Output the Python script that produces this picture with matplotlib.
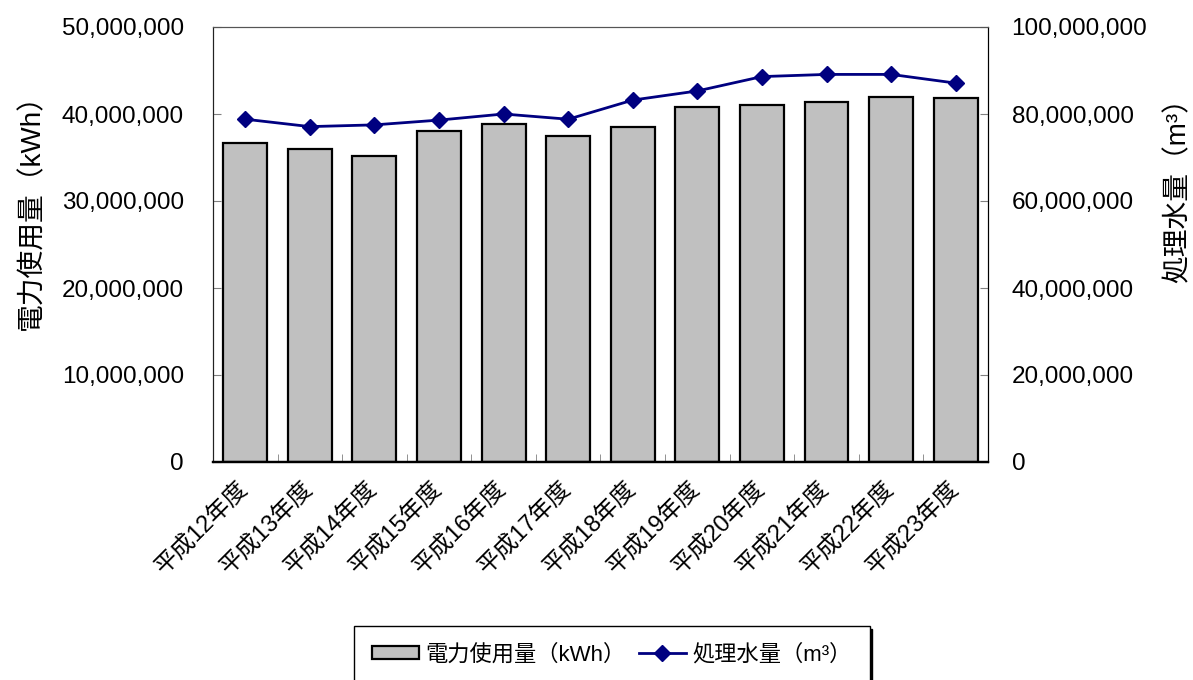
import numpy as np
import matplotlib
matplotlib.use("Agg")
import matplotlib.pyplot as plt
from matplotlib.ticker import FuncFormatter, MultipleLocator

plt.rcParams['font.family'] = ['Liberation Sans', 'Noto Sans CJK JP', 'DejaVu Sans']

years = ['平成12年度', '平成13年度', '平成14年度', '平成15年度', '平成16年度', '平成17年度',
         '平成18年度', '平成19年度', '平成20年度', '平成21年度', '平成22年度', '平成23年度']
# 電力使用量 (kWh)
power = [36700000, 36000000, 35200000, 38000000, 38900000, 37500000,
         38550000, 40800000, 41000000, 41400000, 41950000, 41800000]
# 処理水量 (m3)
water = [78800000, 77100000, 77500000, 78600000, 80000000, 78800000,
         83200000, 85300000, 88600000, 89100000, 89100000, 87100000]

x = np.arange(len(years))
comma = FuncFormatter(lambda v, p: f'{int(v):,}')

fig = plt.figure(figsize=(11.93, 6.8), dpi=100)
ax = fig.add_axes([213/1193, 1 - 462/680, (988-213)/1193, (462-27)/680])

bars = ax.bar(x, power, width=0.68, color='#c0c0c0', edgecolor='black', linewidth=1.6,
              zorder=2)
ax.set_xlim(-0.5, len(years) - 0.5)
ax.set_ylim(0, 50000000)
ax.yaxis.set_major_locator(MultipleLocator(10000000))
ax.yaxis.set_major_formatter(comma)
ax.set_ylabel('電力使用量（kWh）', fontsize=20)
ax.yaxis.set_label_coords(-0.216, 0.59)

ax.set_xticks(x)
ax.set_xticklabels(years, rotation=45, ha='right', va='center', rotation_mode='anchor')
ax.set_xticks(x[:-1] + 0.5, minor=True)
ax.tick_params(axis='x', which='major', length=0, pad=17, labelsize=17)
ax.tick_params(axis='x', which='minor', direction='in', length=6, color='#808080')
ax.tick_params(axis='y', direction='in', length=6, color='#808080', pad=21, labelsize=17.5)

ax2 = ax.twinx()
line, = ax2.plot(x, water, color='#000080', linewidth=2, marker='D', markersize=8.5,
                 zorder=3)
ax2.set_ylim(0, 100000000)
ax2.yaxis.set_major_locator(MultipleLocator(20000000))
ax2.yaxis.set_major_formatter(comma)
ax2.tick_params(axis='y', direction='in', length=6, color='#808080', pad=17, labelsize=17.5)
ax2.set_ylabel('処理水量（m³）', fontsize=20, rotation=90)
ax2.yaxis.set_label_coords(1.228, 0.64)

for a in (ax, ax2):
    a.spines['left'].set_color('#222222')
    a.spines['top'].set_color('#555555')
    a.spines['right'].set_color('black')
    a.spines['bottom'].set_color('black')
    a.spines['bottom'].set_linewidth(1.6)

fig.legend([bars, line], ['電力使用量（kWh）', '処理水量（m³）'],
           loc='upper center', bbox_to_anchor=(612/1193, 1 - 626/680), ncol=2,
           fontsize=16, frameon=True, fancybox=False, edgecolor='black',
           shadow={'color': 'black', 'alpha': 1}, borderpad=0.8, handlelength=2.1,
           handleheight=0.5, handletextpad=0.3, columnspacing=0.6, borderaxespad=0)

fig.savefig('out.png', dpi=100)
